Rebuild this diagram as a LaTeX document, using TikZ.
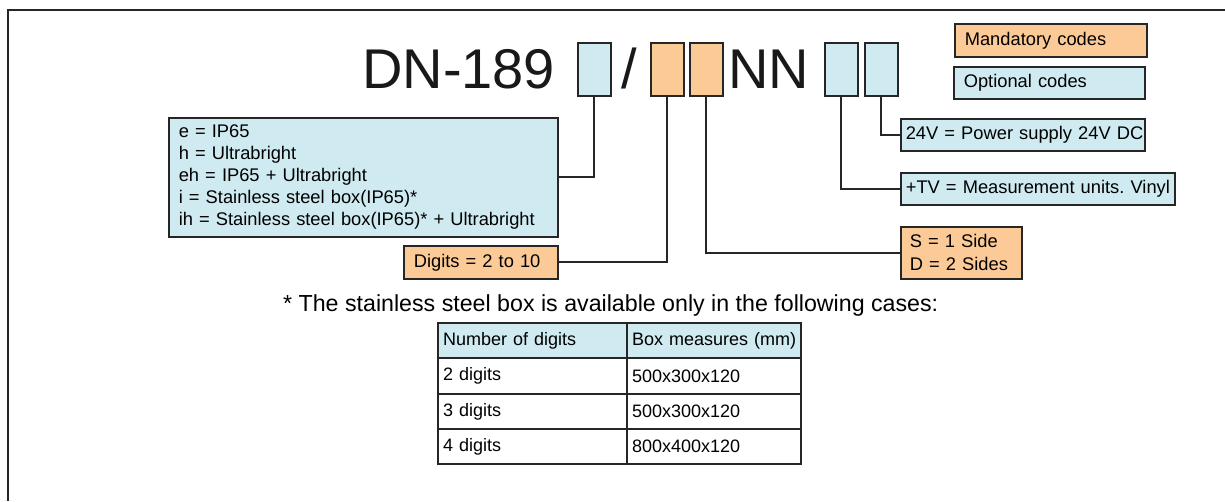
\documentclass[tikz,border=0pt]{standalone}
\usepackage{fontspec}
\setmainfont{Liberation Sans}
\frenchspacing
\definecolor{optblue}{RGB}{207,235,241}
\definecolor{mandorange}{RGB}{252,202,150}
\definecolor{edge}{RGB}{38,38,38}
\begin{document}
\begin{tikzpicture}[x=1pt,y=-1pt,
  codebox/.style={draw=edge,line width=1.6pt,anchor=north west,inner ysep=0pt,inner xsep=10pt,align=left,font=\fontsize{18.3}{22}\selectfont\frenchspacing},
  blue/.style={fill=optblue},
  orng/.style={fill=mandorange},
  slot/.style={draw=edge,line width=1.6pt,anchor=north west,minimum width=33pt,minimum height=53pt,inner sep=0pt},
  link/.style={draw=edge,line width=2pt},
  cell/.style={draw=edge,line width=2pt,anchor=north west,inner ysep=0pt,inner xsep=5pt,align=left,font=\fontsize{18}{22}\selectfont},
  title/.style={inner sep=0pt,font=\fontsize{56}{60}\selectfont,text=black!90}
]
\useasboundingbox (0,0) rectangle (1225,501);
% frame
\draw[edge,line width=1.5pt] (1225,10) -- (8,10) -- (8,501);

% title
\node[title,anchor=base west] (dn) at (362,88) {DN-189};
\node[title,anchor=base] (sl) at (629,88) {/};
\node[title,anchor=base west] (nn) at (728,88) {NN};

% slots
\node[slot,blue] (b1) at (577,42) {};
\node[slot,orng] (b2) at (650,42) {};
\node[slot,orng] (b3) at (689,42) {};
\node[slot,blue] (b4) at (824,42) {};
\node[slot,blue] (b5) at (864,42) {};

% legend
\node[codebox,orng,text width=172pt,minimum height=33pt] (mand) at (954,23) {\mbox{Mandatory codes}};
\node[codebox,blue,text width=171pt,minimum height=32pt] (opt) at (953,66) {\mbox{Optional codes}};

% code boxes
\node[codebox,blue,text width=369pt,minimum height=119pt] (opts) at (168,117)
  {e = IP65\\h = Ultrabright\\eh = IP65 + Ultrabright\\i = Stainless steel box(IP65)*\\\mbox{ih = Stainless steel box(IP65)* + Ultrabright}};
\node[codebox,orng,text width=134pt,minimum height=33pt] (dig) at (403,245) {\mbox{Digits = 2 to 10}};
\node[codebox,blue,inner xsep=5pt,text width=234pt,minimum height=32pt] (pw) at (900,118) {\mbox{24V = Power supply 24V DC}};
\node[codebox,blue,inner xsep=5pt,text width=264pt,minimum height=32pt] (tv) at (900,172) {\mbox{+TV = Measurement units. Vinyl}};
\node[codebox,orng,inner xsep=9pt,text width=103pt,minimum height=52pt,font=\fontsize{18.3}{23}\selectfont] (sd) at (900,226) {\mbox{S = 1 Side}\\\mbox{D = 2 Sides}};

% connectors
\draw[link] (b1.south) |- (opts.east);
\draw[link] (b2.south) |- (dig.east);
\draw[link] (b3.south) |- (sd.west);
\draw[link] (b4.south) |- (tv.west);
\draw[link] (b5.south) |- (pw.west);

% footnote
\node[inner sep=0pt,anchor=base west,font=\fontsize{23.2}{26}\selectfont] (note) at (283,311)
  {* The stainless steel box is available only in the following cases:};

% table
\node[cell,blue,text width=179pt,minimum height=35pt] (t11) at (437,322) {\mbox{Number of digits}};
\node[cell,blue,text width=164pt,minimum height=35pt] (t12) at (626,322) {\mbox{Box measures (mm)}};
\node[cell,text width=179pt,minimum height=36pt] (t21) at (437,357) {\mbox{2 digits}};
\node[cell,text width=164pt,minimum height=36pt] (t22) at (626,357) {\mbox{500x300x120}};
\node[cell,text width=179pt,minimum height=35pt] (t31) at (437,393) {\mbox{3 digits}};
\node[cell,text width=164pt,minimum height=35pt] (t32) at (626,393) {\mbox{500x300x120}};
\node[cell,text width=179pt,minimum height=35pt] (t41) at (437,428) {\mbox{4 digits}};
\node[cell,text width=164pt,minimum height=35pt] (t42) at (626,428) {\mbox{800x400x120}};
\end{tikzpicture}
\end{document}
